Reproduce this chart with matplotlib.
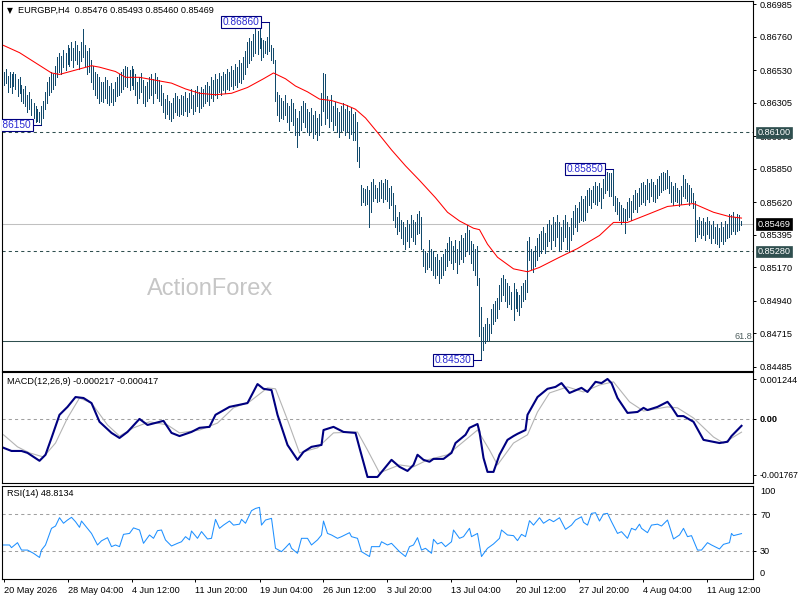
import numpy as np
import matplotlib.pyplot as plt
from matplotlib.transforms import blended_transform_factory

plt.rcParams["font.family"] = ["Liberation Sans", "DejaVu Sans"]

# H4 bars, one per 4 hours
highs = [
    0.8652, 0.8654, 0.8649, 0.8652, 0.8650, 0.8652, 0.8650, 0.8647, 0.8648, 0.8643,
    0.8640, 0.8642, 0.8636, 0.8638, 0.8633, 0.8630, 0.8628, 0.8626, 0.8624, 0.8628,
    0.8632, 0.8638, 0.8645, 0.8648, 0.8652, 0.8650, 0.8656, 0.8662, 0.8665, 0.8663,
    0.8667, 0.8665, 0.8670, 0.8668, 0.8672, 0.8668, 0.8673, 0.8670, 0.8666, 0.8672,
    0.8681, 0.8670, 0.8666, 0.8668, 0.8660, 0.8656, 0.8652, 0.8650, 0.8648, 0.8645,
    0.8645, 0.8648, 0.8646, 0.8642, 0.8644, 0.8640, 0.8645, 0.8648, 0.8650, 0.8652,
    0.8654, 0.8656, 0.8655, 0.8653, 0.8656, 0.8654, 0.8650, 0.8645, 0.8648, 0.8651,
    0.8646, 0.8642, 0.8645, 0.8648, 0.8650, 0.8647, 0.8651, 0.8648, 0.8646, 0.8643,
    0.8637, 0.8633, 0.8636, 0.8632, 0.8630, 0.8634, 0.8637, 0.8635, 0.8633, 0.8636,
    0.8635, 0.8638, 0.8634, 0.8637, 0.8640, 0.8636, 0.8639, 0.8642, 0.8638, 0.8641,
    0.8640, 0.8643, 0.8645, 0.8642, 0.8648, 0.8646, 0.8650, 0.8647, 0.8651, 0.8649,
    0.8652, 0.8650, 0.8654, 0.8652, 0.8656, 0.8653, 0.8657, 0.8655, 0.8660, 0.8658,
    0.8662, 0.8666, 0.8672, 0.8675, 0.8673, 0.8678, 0.8681, 0.8680, 0.8682, 0.8675,
    0.8674, 0.8673, 0.8676, 0.8686, 0.8670, 0.8668, 0.8660, 0.8638, 0.8636, 0.8634,
    0.8632, 0.8636, 0.8630, 0.8628, 0.8633, 0.8630, 0.8626, 0.8620, 0.8625, 0.8628,
    0.8632, 0.8630, 0.8626, 0.8624, 0.8627, 0.8622, 0.8625, 0.8620, 0.8623, 0.8637,
    0.8651, 0.8650, 0.8635, 0.8632, 0.8636, 0.8628, 0.8631, 0.8627, 0.8624, 0.8628,
    0.8630, 0.8626, 0.8629, 0.8625, 0.8627, 0.8623, 0.8624, 0.8617, 0.8600, 0.8574,
    0.8572, 0.8571, 0.8573, 0.8570, 0.8576, 0.8578, 0.8574, 0.8572, 0.8576, 0.8577,
    0.8575, 0.8578, 0.8577, 0.8572, 0.8573, 0.8568, 0.8560, 0.8552, 0.8555, 0.8550,
    0.8548, 0.8545, 0.8550, 0.8547, 0.8553, 0.8550, 0.8548, 0.8554, 0.8556, 0.8552,
    0.8530, 0.8528, 0.8527, 0.8536, 0.8530, 0.8528, 0.8524, 0.8526, 0.8522, 0.8524,
    0.8526, 0.8530, 0.8534, 0.8538, 0.8535, 0.8532, 0.8536, 0.8530, 0.8535, 0.8539,
    0.8537, 0.8541, 0.8546, 0.8543, 0.8535, 0.8533, 0.8530, 0.8532, 0.8510, 0.8490,
    0.8476, 0.8478, 0.8482, 0.8478, 0.8488, 0.8492, 0.8494, 0.8496, 0.8505, 0.8510,
    0.8512, 0.8509, 0.8506, 0.8504, 0.8500, 0.8506, 0.8502, 0.8500, 0.8498, 0.8504,
    0.8506, 0.8508, 0.8535, 0.8538, 0.8530, 0.8528, 0.8532, 0.8537, 0.8540, 0.8542,
    0.8545, 0.8541, 0.8547, 0.8550, 0.8546, 0.8552, 0.8548, 0.8553, 0.8548, 0.8545,
    0.8550, 0.8553, 0.8548, 0.8545, 0.8551, 0.8556, 0.8560, 0.8558, 0.8562, 0.8566,
    0.8564, 0.8566, 0.8570, 0.8572, 0.8570, 0.8573, 0.8576, 0.8573, 0.8575, 0.8572,
    0.8578, 0.8581, 0.8583, 0.8582, 0.8582, 0.8585, 0.8566, 0.8565, 0.8562, 0.8560,
    0.8558, 0.8557, 0.8562, 0.8565, 0.8563, 0.8567, 0.8570, 0.8568, 0.8572, 0.8575,
    0.8576, 0.8574, 0.8578, 0.8575, 0.8578, 0.8576, 0.8574, 0.8578, 0.8580, 0.8582,
    0.8583, 0.8582, 0.8584, 0.8580, 0.8576, 0.8573, 0.8575, 0.8572, 0.8570, 0.8573,
    0.8581, 0.8578, 0.8575, 0.8574, 0.8572, 0.8568, 0.8563, 0.8550, 0.8552, 0.8549,
    0.8551, 0.8548, 0.8552, 0.8549, 0.8546, 0.8549, 0.8545, 0.8547, 0.8544, 0.8548,
    0.8545, 0.8549, 0.8547, 0.8554, 0.8553, 0.8555, 0.8552, 0.8554, 0.8553, 0.85493,
]
lows = [
    0.8643, 0.8644, 0.8638, 0.8641, 0.8637, 0.8642, 0.8640, 0.8635, 0.8637, 0.8632,
    0.8630, 0.8628, 0.8624, 0.8626, 0.8622, 0.8620, 0.8617, 0.8618, 0.8617, 0.8615,
    0.8620, 0.8626, 0.8630, 0.8636, 0.8638, 0.8640, 0.8643, 0.8648, 0.8652, 0.8650,
    0.8655, 0.8653, 0.8657, 0.8656, 0.8660, 0.8655, 0.8660, 0.8657, 0.8654, 0.8659,
    0.8662, 0.8656, 0.8650, 0.8652, 0.8645, 0.8640, 0.8636, 0.8634, 0.8630, 0.8632,
    0.8631, 0.8634, 0.8630, 0.8629, 0.8631, 0.8629, 0.8632, 0.8635, 0.8636, 0.8638,
    0.8640, 0.8642, 0.8641, 0.8639, 0.8643, 0.8640, 0.8636, 0.8630, 0.8634, 0.8638,
    0.8630, 0.8628, 0.8632, 0.8634, 0.8636, 0.8630, 0.8637, 0.8634, 0.8632, 0.8629,
    0.8624, 0.8620, 0.8623, 0.8619, 0.8618, 0.8620, 0.8624, 0.8622, 0.8621, 0.8623,
    0.8622, 0.8625, 0.8621, 0.8624, 0.8627, 0.8623, 0.8625, 0.8628, 0.8624, 0.8627,
    0.8628, 0.8630, 0.8632, 0.8629, 0.8634, 0.8632, 0.8636, 0.8634, 0.8638, 0.8636,
    0.8639, 0.8637, 0.8640, 0.8639, 0.8642, 0.8640, 0.8643, 0.8641, 0.8645, 0.8644,
    0.8647, 0.8650, 0.8655, 0.8658, 0.8660, 0.8663, 0.8665, 0.8664, 0.8668, 0.8660,
    0.8662, 0.8665, 0.8664, 0.8666, 0.8660, 0.8658, 0.8632, 0.8622, 0.8618, 0.8620,
    0.8619, 0.8622, 0.8617, 0.8612, 0.8618, 0.8615, 0.8608, 0.8600, 0.8608, 0.8612,
    0.8617, 0.8614, 0.8610, 0.8608, 0.8611, 0.8606, 0.8609, 0.8605, 0.8608, 0.8615,
    0.8625, 0.8616, 0.8620, 0.8614, 0.8618, 0.8612, 0.8615, 0.8610, 0.8607, 0.8611,
    0.8612, 0.8608, 0.8610, 0.8606, 0.8609, 0.8605, 0.8605, 0.8590, 0.8586, 0.8560,
    0.8562, 0.8560, 0.8561, 0.8545, 0.8555, 0.8563, 0.8565, 0.8562, 0.8563, 0.8565,
    0.8562, 0.8564, 0.8563, 0.8558, 0.8560, 0.8550, 0.8545, 0.8540, 0.8542, 0.8537,
    0.8533, 0.8530, 0.8535, 0.8531, 0.8538, 0.8535, 0.8533, 0.8540, 0.8541, 0.8530,
    0.8518, 0.8514, 0.8516, 0.8517, 0.8515, 0.8512, 0.8510, 0.8512, 0.8506, 0.8510,
    0.8512, 0.8515, 0.8518, 0.8522, 0.8520, 0.8516, 0.8521, 0.8513, 0.8519, 0.8523,
    0.8521, 0.8525, 0.8528, 0.8526, 0.8520, 0.8515, 0.8512, 0.8505, 0.8470, 0.8453,
    0.8460, 0.8465, 0.8466, 0.8467, 0.8472, 0.8478, 0.8480, 0.8482, 0.8488, 0.8494,
    0.8498, 0.8494, 0.8490, 0.8492, 0.8488, 0.8481, 0.8489, 0.8487, 0.8484, 0.8490,
    0.8494, 0.8495, 0.8500, 0.8522, 0.8516, 0.8514, 0.8518, 0.8522, 0.8525, 0.8527,
    0.8530, 0.8527, 0.8532, 0.8535, 0.8530, 0.8536, 0.8532, 0.8538, 0.8528, 0.8530,
    0.8535, 0.8538, 0.8530, 0.8528, 0.8536, 0.8540, 0.8545, 0.8542, 0.8548, 0.8550,
    0.8549, 0.8550, 0.8555, 0.8560, 0.8558, 0.8562, 0.8561, 0.8560, 0.8563, 0.8558,
    0.8565, 0.8568, 0.8570, 0.8566, 0.8566, 0.8560, 0.8556, 0.8554, 0.8550, 0.8547,
    0.8548, 0.8541, 0.8550, 0.8552, 0.8550, 0.8555, 0.8557, 0.8555, 0.8559, 0.8561,
    0.8562, 0.8560, 0.8564, 0.8562, 0.8566, 0.8563, 0.8562, 0.8565, 0.8567, 0.8569,
    0.8570, 0.8571, 0.8572, 0.8568, 0.8562, 0.8560, 0.8563, 0.8562, 0.8559, 0.8561,
    0.8566, 0.8565, 0.8563, 0.8560, 0.8562, 0.8558, 0.8535, 0.8538, 0.8540, 0.8537,
    0.8539, 0.8536, 0.8540, 0.8537, 0.8534, 0.8537, 0.8534, 0.8533, 0.8531, 0.8535,
    0.8533, 0.8535, 0.8537, 0.8538, 0.8540, 0.8542, 0.8540, 0.8542, 0.8543, 0.85460,
]

# red moving average, sampled along the line
ma_idx = [0, 8, 16, 24, 28, 36, 44, 48, 56, 61,
          68, 76, 84, 91, 98, 106, 114, 122, 130, 135,
          141, 146, 152, 158, 164, 171, 176, 181, 187, 194,
          201, 208, 216, 222, 228, 235, 238, 242, 247, 255,
          262, 268, 278, 287, 298, 305, 312, 323, 332, 345,
          355, 363, 369]
ma_val = [0.8670, 0.8665, 0.8658, 0.8651, 0.8650, 0.8653, 0.8656, 0.8655, 0.8652, 0.8648,
          0.8648, 0.8646, 0.8644, 0.8640, 0.8637, 0.8636, 0.8637, 0.8641, 0.8647, 0.8651,
          0.8647, 0.8642, 0.8638, 0.8633, 0.8632, 0.8629, 0.8626, 0.8620, 0.8610, 0.8598,
          0.8587, 0.8577, 0.8565, 0.8555, 0.8549, 0.8544, 0.8543, 0.8533, 0.8524, 0.8516,
          0.8514, 0.8517, 0.8524, 0.8530, 0.8539, 0.8548, 0.8548, 0.8554, 0.8559, 0.8561,
          0.8555, 0.8552, 0.8551]

macd_idx = [0, 4, 9, 12, 18, 21, 24, 28, 32, 36,
            40, 44, 48, 54, 58, 62, 68, 72, 80, 84,
            88, 94, 98, 103, 106, 113, 122, 127, 130, 134,
            137, 142, 147, 150, 154, 159, 160, 165, 170, 176,
            178, 182, 187, 194, 198, 202, 205, 207, 210, 213,
            215, 220, 224, 226, 231, 233, 237, 238, 240, 242,
            245, 248, 252, 255, 257, 261, 262, 267, 272, 276,
            279, 283, 289, 292, 296, 299, 302, 304, 307, 312,
            317, 320, 322, 327, 332, 334, 337, 340, 345, 350,
            358, 362, 364, 369]
macd_val = [-0.00091, -0.00101, -0.00101, -0.00107, -0.00132, -0.00113, -0.00060, 0.00013, 0.00038, 0.00069,
            0.00066, 0.00050, -0.00009, -0.00044, -0.00060, -0.00041, 0.00000, -0.00019, -0.00006, -0.00044,
            -0.00054, -0.00041, -0.00028, -0.00025, 0.00013, 0.00038, 0.00050, 0.00110, 0.00095, 0.00091,
            0.00013, -0.00082, -0.00129, -0.00104, -0.00088, -0.00082, -0.00035, -0.00025, -0.00041, -0.00044,
            -0.00091, -0.00183, -0.00183, -0.00129, -0.00151, -0.00164, -0.00145, -0.00113, -0.00129, -0.00135,
            -0.00126, -0.00126, -0.00107, -0.00076, -0.00050, -0.00028, -0.00016, -0.00041, -0.00123, -0.00167,
            -0.00167, -0.00113, -0.00066, -0.00054, -0.00047, -0.00035, 0.00013, 0.00069, 0.00095, 0.00101,
            0.00113, 0.00082, 0.00098, 0.00085, 0.00117, 0.00113, 0.00126, 0.00113, 0.00066, 0.00019,
            0.00022, 0.00035, 0.00028, 0.00038, 0.00054, 0.00038, 0.00009, 0.00009, -0.00009, -0.00066,
            -0.00076, -0.00072, -0.00054, -0.000217]

signal_idx = [0, 7, 13, 20, 26, 32, 38, 44, 52, 58,
              65, 73, 82, 88, 98, 107, 115, 123, 132, 136,
              142, 148, 157, 165, 177, 182, 188, 198, 205, 212,
              222, 228, 237, 243, 247, 255, 262, 267, 273, 282,
              290, 298, 305, 313, 320, 332, 337, 345, 355, 360,
              369]
signal_val = [-0.00050, -0.00088, -0.00107, -0.00120, -0.00076, 0.00003, 0.00066, 0.00050, -0.00019, -0.00054,
              -0.00028, -0.00009, -0.00019, -0.00044, -0.00035, -0.00013, 0.00035, 0.00054, 0.00098, 0.00095,
              -0.00003, -0.00107, -0.00091, -0.00044, -0.00041, -0.00098, -0.00170, -0.00145, -0.00151, -0.00129,
              -0.00113, -0.00082, -0.00035, -0.00098, -0.00145, -0.00076, -0.00050, 0.00022, 0.00082, 0.00101,
              0.00085, 0.00107, 0.00117, 0.00054, 0.00025, 0.00038, 0.00035, 0.00003, -0.00057, -0.00076,
              -0.000417]

rsi_idx = [0, 3, 4, 7, 9, 12, 15, 18, 19, 21,
           24, 26, 28, 30, 32, 34, 36, 38, 39, 41,
           44, 47, 49, 52, 54, 56, 58, 60, 63, 65,
           68, 70, 73, 75, 77, 79, 81, 84, 87, 89,
           91, 93, 94, 97, 99, 102, 104, 106, 108, 110,
           113, 115, 118, 119, 121, 124, 126, 128, 129, 131,
           134, 136, 139, 141, 143, 144, 147, 149, 152, 154,
           157, 159, 160, 162, 164, 167, 169, 173, 174, 177,
           179, 183, 184, 188, 189, 192, 194, 198, 201, 203,
           205, 207, 209, 211, 214, 215, 217, 219, 221, 224,
           225, 228, 230, 233, 234, 237, 239, 242, 245, 248,
           249, 252, 255, 257, 259, 261, 263, 265, 268, 270,
           273, 275, 278, 281, 284, 286, 289, 290, 292, 294,
           296, 298, 300, 302, 304, 307, 309, 312, 314, 316,
           318, 319, 322, 324, 327, 329, 332, 335, 338, 340,
           342, 344, 347, 349, 352, 354, 358, 360, 363, 364,
           365, 369]
rsi_val = [36.5, 36.5, 33.6, 39.0, 31.0, 31.0, 27.5, 23.0, 31.0, 36.5,
           54.5, 57.0, 66.0, 60.0, 63.5, 66.4, 61.7, 55.6, 62.4, 57.0,
           49.0, 36.5, 41.0, 44.4, 34.7, 36.5, 34.7, 48.0, 49.0, 55.0,
           52.7, 38.3, 47.3, 43.7, 52.0, 52.7, 41.9, 35.4, 38.3, 40.0,
           45.5, 42.0, 51.6, 43.7, 51.0, 43.0, 43.7, 64.2, 54.5, 58.0,
           62.4, 58.0, 59.0, 64.2, 60.0, 73.6, 76.0, 77.2, 58.0, 63.5,
           65.3, 32.9, 29.3, 33.6, 38.3, 32.9, 27.5, 43.7, 43.7, 36.5,
           42.0, 47.3, 62.4, 49.0, 47.3, 43.7, 45.5, 49.8, 45.5, 43.7,
           29.3, 24.0, 34.7, 34.7, 40.0, 36.5, 38.3, 29.3, 24.0, 34.7,
           36.5, 44.4, 31.0, 32.9, 27.5, 42.6, 37.6, 39.4, 34.7, 40.0,
           52.7, 43.7, 45.5, 54.5, 45.5, 49.0, 24.0, 32.9, 37.6, 43.7,
           52.7, 47.3, 46.6, 41.2, 48.0, 45.5, 62.8, 58.0, 66.0, 60.0,
           64.2, 61.7, 66.0, 53.4, 58.0, 63.5, 67.0, 61.0, 58.0, 70.7,
           71.4, 62.4, 70.0, 70.7, 61.7, 49.0, 50.9, 43.7, 54.5, 52.7,
           59.0, 54.5, 49.8, 58.0, 59.0, 57.0, 63.5, 43.0, 47.3, 54.5,
           45.5, 46.6, 31.0, 31.0, 39.0, 36.5, 32.2, 37.2, 39.0, 49.0,
           46.6, 48.8]

time_labels = ["20 May 2026", "28 May 04:00", "4 Jun 12:00", "11 Jun 20:00",
               "19 Jun 04:00", "26 Jun 12:00", "3 Jul 20:00", "13 Jul 04:00",
               "20 Jul 12:00", "27 Jul 20:00", "4 Aug 04:00", "11 Aug 12:00"]
time_label_idx = [0, 32, 64, 96, 128, 160, 192, 224, 256, 288, 320, 352]

price_ticks = [0.86985, 0.86760, 0.86530, 0.86305, 0.86075, 0.85850,
               0.85620, 0.85395, 0.85170, 0.84940, 0.84715, 0.84485]

resistance = 0.86100
support = 0.85280
last_price = 0.85469
fib_level = 0.84665

swing_idx = [19, 133, 305, 239]
swing_price = [0.86150, 0.86860, 0.85850, 0.84530]

BAR = "#124a6c"
SLATE = "#2f4f4f"
NAVY = "#000080"
FS = 6.6
W, H = 800, 600


def px_rect(x0, y0, x1, y1):
    return [x0 / W, 1 - y1 / H, (x1 - x0) / W, (y1 - y0) / H]


fig = plt.figure(figsize=(8, 6), dpi=100)
ax = fig.add_axes(px_rect(2, 1, 753, 371))
ax_macd = fig.add_axes(px_rect(2, 372, 753, 483), sharex=ax)
ax_rsi = fig.add_axes(px_rect(2, 486, 753, 579), sharex=ax)

for a in (ax, ax_macd, ax_rsi):
    for s in a.spines.values():
        s.set_linewidth(0.8)
        s.set_color("black")
    a.yaxis.tick_right()
    a.tick_params(axis="y", right=True, left=False, labelright=True, labelleft=False,
                  length=2.2, width=0.7, pad=2.9, labelsize=FS)
    a.tick_params(axis="x", bottom=False, labelbottom=False)

# --- price panel ---
idx = np.arange(len(highs))
ax.vlines(idx, lows, highs, color=BAR, lw=0.45, zorder=3, antialiased=False)
ax.plot(ma_idx, ma_val, color="#ff0000", lw=0.75, zorder=4)

ax.axhline(resistance, color=SLATE, lw=0.75, ls=(0, (3, 3)), zorder=2)
ax.axhline(support, color=SLATE, lw=0.75, ls=(0, (3, 3)), zorder=2)
ax.axhline(last_price, color="#c0c0c0", lw=0.75, zorder=1)
ax.axhline(fib_level, color=SLATE, lw=0.75, zorder=2)

ax.set_xlim(-0.75, 374.75)
ax.set_ylim(0.84456, 0.87006)
ax.set_yticks(price_ticks)
ax.set_yticklabels([f"{v:.5f}" for v in price_ticks])

for i, p in zip(swing_idx, swing_price):
    ax.plot([i - 4.5, i], [p, p], color=NAVY, lw=0.75, zorder=5)
    ax.text(i - 5.1, p, f"{p:.5f}", ha="right", va="center", fontsize=7.3,
            color="#2a2ad2", zorder=6, clip_on=True,
            bbox=dict(boxstyle="square,pad=0.12", fc="white", ec=NAVY, lw=0.8))

right = blended_transform_factory(ax.transAxes, ax.transData)
for lvl, col in [(resistance, SLATE), (last_price, "black"), (support, SLATE)]:
    ax.text(1 + 4.5 / 751, lvl, f"{lvl:.5f}", transform=right, ha="left", va="center",
            fontsize=FS, color="white", zorder=7, clip_on=False,
            bbox=dict(boxstyle="square,pad=0.15", fc=col, ec=col, lw=0.5))

fig.text(752 / W, 1 - 336 / H, "61.8", ha="right", va="center", fontsize=FS, color="#4f5f5f")
fig.text(210 / W, 1 - 289 / H, "ActionForex", ha="center", va="center",
         fontsize=17, color="#c6c6c6")

fig.text(6.5 / W, 1 - 11 / H, "\u25bc", ha="left", va="center", fontsize=5.5,
         family=["DejaVu Sans"])
fig.text(18 / W, 1 - 10.5 / H, "EURGBP,H4  0.85476 0.85493 0.85460 0.85469",
         ha="left", va="center", fontsize=FS)

# --- MACD panel ---
ax_macd.axhline(0, color="#a0a0a0", lw=0.75, ls=(0, (3, 3)))
ax_macd.plot(signal_idx, signal_val, color="#b4b4b4", lw=0.8)
ax_macd.plot(macd_idx, macd_val, color=NAVY, lw=1.5, solid_joinstyle="round")
ax_macd.set_ylim(-0.00202, 0.00148)
ax_macd.set_yticks([0.001244, 0.0, -0.001767])
ax_macd.set_yticklabels(["0.001244", "0.00", "-0.001767"])
ax_macd.get_yticklabels()[1].set_fontweight("bold")
ax_macd.get_yticklabels()[2].set_fontsize(6.2)
fig.text(7 / W, 1 - 381 / H, "MACD(12,26,9) -0.000217 -0.000417",
         ha="left", va="center", fontsize=FS)

# --- RSI panel ---
ax_rsi.axhline(70, color="#a0a0a0", lw=0.75, ls=(0, (3, 3)))
ax_rsi.axhline(30, color="#a0a0a0", lw=0.75, ls=(0, (3, 3)))
ax_rsi.plot(rsi_idx, rsi_val, color="#1e90ff", lw=0.75)
ax_rsi.set_ylim(-0.3, 100.3)
ax_rsi.set_yticks([70, 30])
ax_rsi.set_yticklabels(["70", "30"])
fig.text(760 / W, 1 - 492 / H, "100", ha="left", va="center", fontsize=FS)
fig.text(760 / W, 1 - 573 / H, "0", ha="left", va="center", fontsize=FS)
fig.text(7 / W, 1 - 494 / H, "RSI(14) 48.8134", ha="left", va="center", fontsize=FS)

ax_rsi.tick_params(axis="x", bottom=True, labelbottom=True, length=2.2, width=0.7,
                   pad=2.5, labelsize=FS)
ax_rsi.set_xticks(time_label_idx)
ax_rsi.set_xticklabels(time_labels, ha="left")

fig.savefig("out.png", dpi=100, facecolor="white")
